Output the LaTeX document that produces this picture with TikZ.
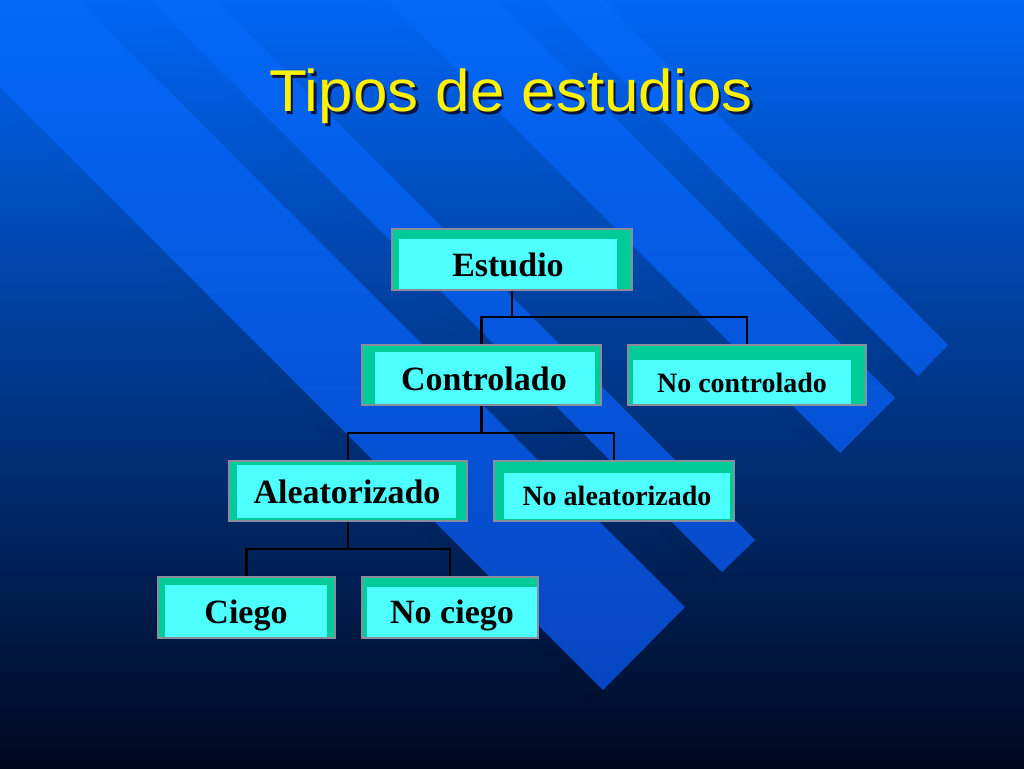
\documentclass[tikz,border=0pt]{standalone}
\usepackage{fontspec}
\setmainfont{Liberation Serif}
\newfontfamily\titlefont{Liberation Sans}[FakeStretch=1.05]
\usetikzlibrary{fit}
\definecolor{bgtop}{HTML}{0066F5}
\definecolor{bgmid}{HTML}{0042B8}
\definecolor{bgbot}{HTML}{00081E}
\definecolor{shtop}{HTML}{0066F5}
\definecolor{shmid}{HTML}{003BA8}
\definecolor{shbot}{HTML}{00061A}
\definecolor{bandtop}{HTML}{0368F8}
\definecolor{bandmid}{HTML}{0852D4}
\definecolor{bandbot}{HTML}{0842BC}
\definecolor{tealc}{HTML}{00CC99}
\definecolor{cyanc}{HTML}{4DFFFF}
\definecolor{boxgrey}{HTML}{8A8E9C}
\definecolor{titleshadow}{HTML}{0A1440}
\tikzset{
  boxfill/.style={fill=tealc, inner sep=0pt, draw=none},
  boxline/.style={draw=boxgrey, line width=1.5pt},
  innerface/.style={fill=cyanc},
  bigtxt/.style={font=\fontsize{25.5}{30}\selectfont\bfseries, anchor=base, inner sep=0pt, text=black},
  smalltxt/.style={font=\fontsize{21}{25}\selectfont\bfseries, anchor=base, inner sep=0pt, text=black},
  titletxt/.style={font=\titlefont\fontsize{44.25}{50}\selectfont, anchor=base, inner sep=0pt},
  conn/.style={draw=black, line width=1.8pt},
}
\begin{document}
\begin{tikzpicture}[x=0.75pt,y=-0.75pt]
\useasboundingbox (0,0) rectangle (1024,768);
\clip (0,0) rectangle (1024,768);
% background
\shade[top color=bgtop, middle color=bgmid, bottom color=bgbot] (0,0) rectangle (1024,768);
% band shadows
\begin{scope}
\clip[shift={(-12,12)}]
  (948,345) -- (918,376) -- ++(-1100,-1100) -- ++(30,-31) -- cycle
  (895,398) -- (840,453) -- ++(-1100,-1100) -- ++(55,-55) -- cycle
  (755,540) -- (722,572) -- ++(-1100,-1100) -- ++(33,-32) -- cycle
  (685,607) -- (603,690) -- ++(-1100,-1100) -- ++(82,-83) -- cycle;
\shade[top color=shtop, middle color=shmid, bottom color=shbot] (0,0) rectangle (1024,768);
\end{scope}
% bands
\begin{scope}
\clip
  (948,345) -- (918,376) -- ++(-1100,-1100) -- ++(30,-31) -- cycle
  (895,398) -- (840,453) -- ++(-1100,-1100) -- ++(55,-55) -- cycle
  (755,540) -- (722,572) -- ++(-1100,-1100) -- ++(33,-32) -- cycle
  (685,607) -- (603,690) -- ++(-1100,-1100) -- ++(82,-83) -- cycle;
\shade[top color=bandtop, middle color=bandmid, bottom color=bandbot] (0,0) rectangle (1024,768);
\end{scope}
% title
\node[titletxt, text=titleshadow] (titlesh) at (513.5,114.5) {Tipos de estudios};
\node[titletxt, text=yellow] (title) at (511,111.5) {Tipos de estudios};
% box bodies
\node[boxfill, fit={(392,229) (632,290)}] (est) {};
\node[boxfill, fit={(362,345) (601,405)}] (ctrl) {};
\node[boxfill, fit={(628,345) (866,405)}] (nctrl) {};
\node[boxfill, fit={(229,461) (467,521)}] (alea) {};
\node[boxfill, fit={(494,461) (734,521)}] (nalea) {};
\node[boxfill, fit={(158,577) (335,638)}] (ciego) {};
\node[boxfill, fit={(362,577) (538,638)}] (nciego) {};
% connectors
\path (est.south) ++(0,27) coordinate (j1);
\path (ctrl.south) ++(0,28) coordinate (j2);
\path (alea.south) ++(0,28) coordinate (j3);
\draw[conn] (est.south) -- (j1);
\draw[conn] (ctrl.north) |- (j1) -| (nctrl.north);
\draw[conn] (ctrl.south) -- (j2);
\draw[conn] (alea.north) |- (j2) -| (nalea.north);
\draw[conn] (alea.south) -- (j3);
\draw[conn] (ciego.north) |- (j3) -| (nciego.north);
% inner faces
\fill[innerface] (399,239) rectangle (617,289);
\fill[innerface] (375,352) rectangle (595,404);
\fill[innerface] (633,360) rectangle (851,404);
\fill[innerface] (237,465) rectangle (456,518);
\fill[innerface] (504,473) rectangle (730,519);
\fill[innerface] (165,585) rectangle (327,637);
\fill[innerface] (367,587) rectangle (537,637);
% borders
\foreach \b in {est,ctrl,nctrl,alea,nalea,ciego,nciego}
  \draw[boxline] (\b.south west) rectangle (\b.north east);
% labels
\node[bigtxt] (testudio) at (508,276.7) {Estudio};
\node[bigtxt] (tctrl) at (484,390.7) {Controlado};
\node[smalltxt] (tnctrl) at (742,392.7) {No controlado};
\node[bigtxt] (talea) at (347,503.3) {Aleatorizado};
\node[smalltxt] (tnalea) at (617,505) {No aleatorizado};
\node[bigtxt] (tciego) at (246,623.3) {Ciego};
\node[bigtxt] (tnciego) at (452,623.3) {No ciego};
\end{tikzpicture}
\end{document}
